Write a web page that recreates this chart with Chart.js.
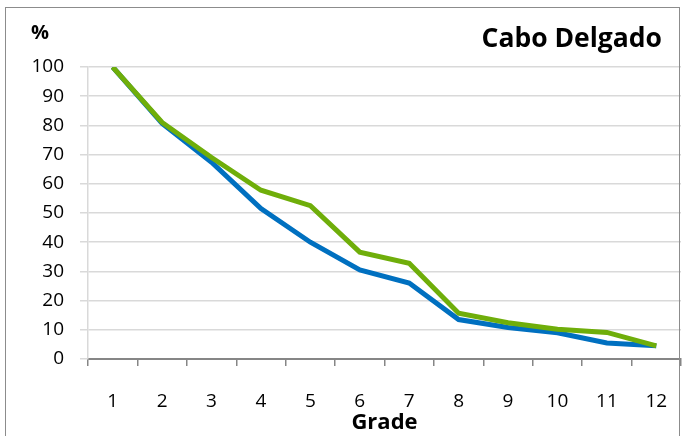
<!DOCTYPE html>
<html>
<head>
<meta charset="utf-8">
<script src="https://cdn.jsdelivr.net/npm/chart.js@4/dist/chart.umd.min.js"></script>
<style>
    html, body { margin: 0; padding: 0; background: #fff; }
    #wrap { width: 682px; height: 436px; position: relative; }
</style>
</head>
<body>
<div id="wrap"><canvas id="chart"></canvas></div>
<script>
// Chart data
const grades = ['1', '2', '3', '4', '5', '6', '7', '8', '9', '10', '11', '12'];
const blueSeries = [100, 80.7, 67.4, 51.5, 40, 30.5, 26, 13.5, 10.8, 9, 5.5, 4.5];
const greenSeries = [100, 81, 69, 57.8, 52.5, 36.6, 32.8, 15.7, 12.4, 10.2, 9.1, 4.5];
const yTicks = [0, 10, 20, 30, 40, 50, 60, 70, 80, 90, 100];

const FONT = '"Open Sans", "Liberation Sans", sans-serif';

// Draw chart frame and texts
const decorPlugin = {
    id: 'decor',
    afterDraw(chart) {
        const ctx = chart.ctx;
        ctx.save();
        ctx.strokeStyle = '#8c8c8c';
        ctx.lineWidth = 1;
        ctx.strokeRect(5.5, 7.5, 674, 440);

        ctx.fillStyle = '#000';
        ctx.textBaseline = 'alphabetic';
        ctx.font = 'bold 20px ' + FONT;
        ctx.textAlign = 'center';
        ctx.fillText('%', 40, 39);

        ctx.font = 'bold 26.5px ' + FONT;
        ctx.textAlign = 'right';
        ctx.fillText('Cabo Delgado', 662, 47);

        ctx.font = 'bold 22px ' + FONT;
        ctx.textAlign = 'center';
        const area = chart.chartArea;
        ctx.fillText('Grade', (area.left + area.right) / 2, 429);
        ctx.restore();
    }
};

const ctx = document.getElementById('chart').getContext('2d');
const chart = new Chart(ctx, {
    type: 'line',
    data: {
        labels: grades,
        datasets: [
            {
                data: greenSeries,
                borderColor: '#6fae0a',
                borderWidth: 5,
                pointRadius: 0,
                tension: 0,
                fill: false
            },
            {
                data: blueSeries,
                borderColor: '#0070c0',
                borderWidth: 5,
                pointRadius: 0,
                tension: 0,
                fill: false
            }
        ]
    },
    options: {
        responsive: true,
        maintainAspectRatio: false,
        animation: false,
        layout: { padding: { top: 67, right: 1, left: 0, bottom: 0 } },
        plugins: {
            legend: { display: false },
            tooltip: { enabled: false }
        },
        scales: {
            x: {
                offset: true,
                grid: {
                    offset: true,
                    drawOnChartArea: false,
                    color: '#868686',
                    lineWidth: 1.5,
                    tickLength: 7
                },
                border: { color: '#868686', width: 2 },
                ticks: {
                    color: '#000',
                    font: { family: FONT, size: 19 },
                    padding: 24,
                    maxRotation: 0
                },
                afterFit(scale) {
                    scale.height = 77;
                    scale.paddingLeft = 0;
                    scale.paddingRight = 0;
                }
            },
            y: {
                min: 0,
                max: 100,
                afterBuildTicks(scale) {
                    scale.ticks = yTicks.map(v => ({ value: v }));
                },
                grid: {
                    color: '#d9d9d9',
                    lineWidth: 1.5,
                    tickLength: 8
                },
                border: { color: '#d9d9d9', width: 1.5 },
                ticks: {
                    color: '#000',
                    font: { family: FONT, size: 19 },
                    padding: 16
                },
                afterFit(scale) { scale.width = 88; }
            }
        }
    },
    plugins: [decorPlugin]
});
</script>
</body>
</html>
